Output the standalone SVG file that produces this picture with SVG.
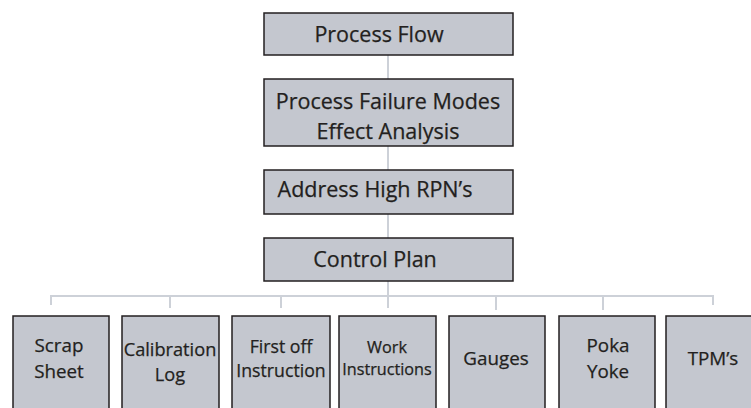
<svg xmlns="http://www.w3.org/2000/svg" width="751" height="408" viewBox="0 0 751 408">
<style>
.box{fill:#c4c7cf;stroke:#231f20;stroke-width:1.5}
.conn{stroke:#cdd1d8;stroke-width:2;fill:none}
text{font-family:"Open Sans","Liberation Sans",sans-serif;fill:#231f20;text-anchor:middle;stroke:#231f20;stroke-width:0.25}
.t1{font-size:21.5px}
.t2{font-size:18.8px}
.t3{font-size:18.2px}
.t5{font-size:17.7px}
.t4{font-size:16.2px}
</style>
<rect width="751" height="408" fill="#ffffff"/>
<g id="connectors">
<path class="conn" d="M388 55V79M388 146V170M388 214V238M388 281V308"/>
<path class="conn" d="M51 305V296H713V305M170 296V308M281 296V308M496 296V310M603 296V310"/>
</g>
<g id="process-flow"><rect class="box" x="264" y="13" width="249" height="42"/><text class="t1" x="379" y="42">Process Flow</text></g>
<g id="pfmea"><rect class="box" x="264" y="79" width="249" height="67"/><text class="t1" x="388" y="108.5">Process Failure Modes</text><text class="t1" x="388" y="138.5">Effect Analysis</text></g>
<g id="address"><rect class="box" x="264" y="170" width="249" height="44"/><text class="t1" x="375" y="197">Address High RPN’s</text></g>
<g id="control-plan"><rect class="box" x="264" y="238" width="249" height="43"/><text class="t1" x="375" y="267">Control Plan</text></g>
<g id="scrap"><rect class="box" x="13" y="316" width="96" height="100"/><text class="t2" x="59" y="352">Scrap</text><text class="t2" x="59" y="378">Sheet</text></g>
<g id="calibration"><rect class="box" x="122" y="316" width="97" height="100"/><text class="t3" x="170" y="356">Calibration</text><text class="t3" x="170" y="381">Log</text></g>
<g id="first-off"><rect class="box" x="232" y="316" width="98" height="100"/><text class="t5" x="281" y="352.5">First off</text><text class="t5" x="281" y="377">Instruction</text></g>
<g id="work"><rect class="box" x="339" y="316" width="97" height="100"/><text class="t4" x="387" y="352.5">Work</text><text class="t4" x="387" y="375">Instructions</text></g>
<g id="gauges"><rect class="box" x="449" y="316" width="96" height="100"/><text class="t2" x="496" y="365">Gauges</text></g>
<g id="poka"><rect class="box" x="559" y="316" width="96" height="100"/><text class="t2" x="608" y="351.5">Poka</text><text class="t2" x="608" y="377.5">Yoke</text></g>
<g id="tpm"><rect class="box" x="666" y="316" width="100" height="100"/><text class="t2" x="713" y="365">TPM’s</text></g>
</svg>
